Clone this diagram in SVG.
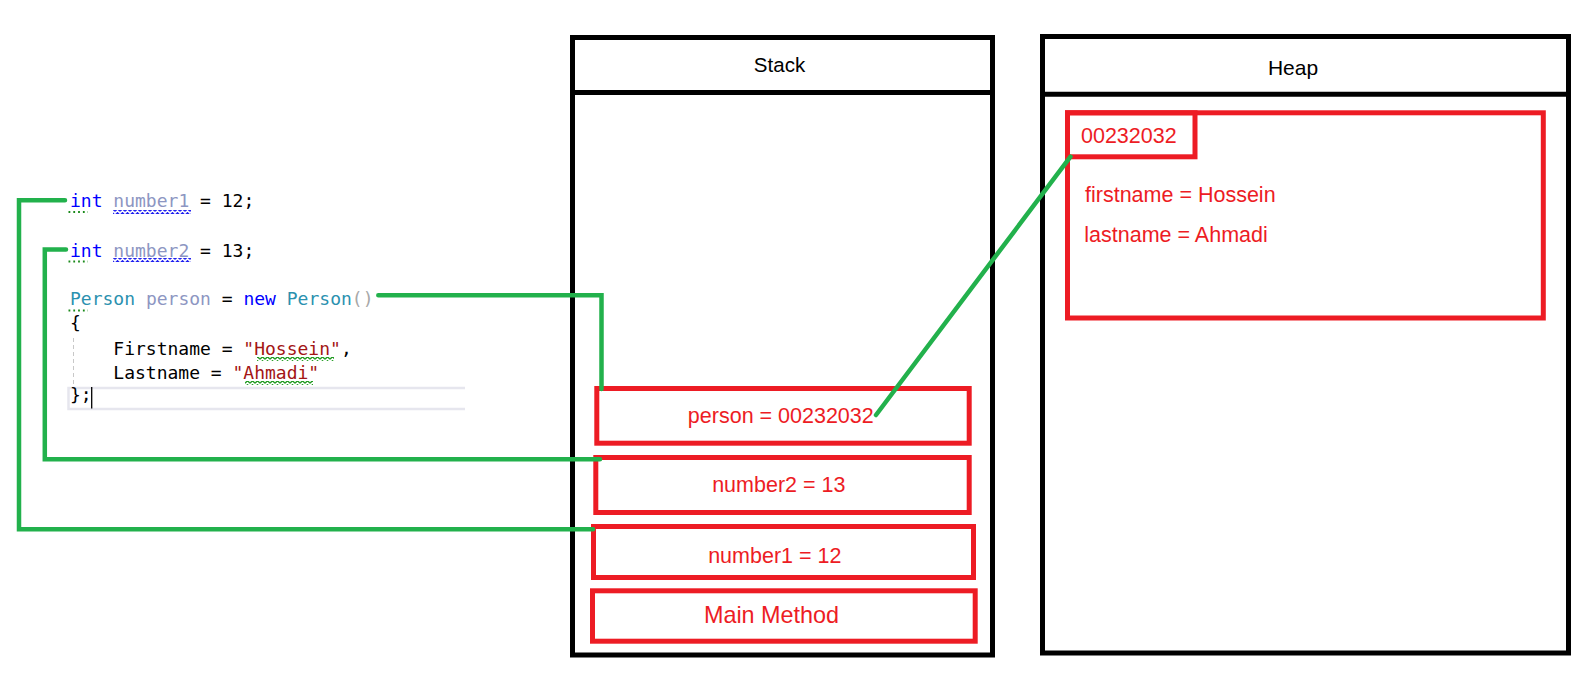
<svg xmlns="http://www.w3.org/2000/svg" width="1596" height="689" viewBox="0 0 1596 689">
<style>
.code{font-family:"DejaVu Sans Mono","Liberation Mono",monospace;font-size:18px;fill:#000}
.kw{fill:#0000ff}
.dim{fill:#8d96c2}
.ty{fill:#2b91af}
.str{fill:#a31515}
.par{fill:#a8a8a8}
.frame{fill:none;stroke:#000;stroke-width:5}
.red{fill:none;stroke:#ed1c24;stroke-width:5}
.hdr{font-family:"Liberation Sans",Arial,sans-serif;fill:#000;text-anchor:middle}
.lbl{font-family:"Liberation Sans",Arial,sans-serif;fill:#ed1c24;font-size:21.5px}
.mid{text-anchor:middle}
.conn{fill:none;stroke:#22b14c;stroke-width:4.5;stroke-linecap:round;stroke-linejoin:miter}
.dots{stroke:#1a8a1a;stroke-width:1.8;stroke-dasharray:1.8 3}
</style>
<defs>
<pattern id="wavyBlue" patternUnits="userSpaceOnUse" x="0" y="0" width="5" height="4">
<path d="M0 3.3 L2.5 0.7 L5 3.3" fill="none" stroke="#1c1cf0" stroke-width="1.3"/>
</pattern>
<pattern id="wavyGreen" patternUnits="userSpaceOnUse" x="0" y="0" width="5" height="4">
<path d="M0 3.3 L2.5 0.7 L5 3.3" fill="none" stroke="#1f9a1f" stroke-width="1.3"/>
</pattern>
</defs>
<rect width="1596" height="689" fill="#fff"/>

<g id="code">
<path d="M465 388 H68.5 V409 H465" fill="none" stroke="#e6e6ee" stroke-width="2.5"/>
<line x1="73.5" y1="338" x2="73.5" y2="386" stroke="#c8c8c8" stroke-width="1" stroke-dasharray="4 3"/>
<line x1="91.7" y1="387" x2="91.7" y2="408.5" stroke="#000" stroke-width="1.3"/>
<text class="code" x="70" y="207"><tspan class="kw">int</tspan> <tspan class="dim">number1</tspan> = 12;</text>
<text class="code" x="70" y="256.5"><tspan class="kw">int</tspan> <tspan class="dim">number2</tspan> = 13;</text>
<text class="code" x="70" y="305"><tspan class="ty">Person</tspan> <tspan class="dim">person</tspan> = <tspan class="kw">new</tspan> <tspan class="ty">Person</tspan><tspan class="par">()</tspan></text>
<text class="code" x="70" y="329">{</text>
<text class="code" x="113.3" y="355">Firstname = <tspan class="str">"Hossein"</tspan>,</text>
<text class="code" x="113.3" y="378.5">Lastname = <tspan class="str">"Ahmadi"</tspan></text>
<text class="code" x="70" y="401">};</text>
<rect x="113" y="210" width="78" height="4" fill="url(#wavyBlue)"/>
<rect x="113" y="258" width="78" height="4" fill="url(#wavyBlue)"/>
<rect x="257" y="357" width="77" height="4" fill="url(#wavyGreen)"/>
<rect x="245" y="381" width="68" height="4" fill="url(#wavyGreen)"/>
<line class="dots" x1="68.5" y1="212" x2="88" y2="212"/>
<line class="dots" x1="68.5" y1="261.5" x2="88" y2="261.5"/>
<line class="dots" x1="68.5" y1="310.5" x2="88" y2="310.5"/>
</g>

<g id="stack">
<rect class="frame" x="572.5" y="37.5" width="420" height="617.5"/>
<line x1="572.5" y1="92.5" x2="992.5" y2="92.5" stroke="#000" stroke-width="5"/>
<text class="hdr" x="779.5" y="72.3" font-size="20.5">Stack</text>
</g>

<g id="heap">
<rect class="frame" x="1042.5" y="36.5" width="526" height="616.5"/>
<line x1="1042.5" y1="94.2" x2="1568.5" y2="94.2" stroke="#000" stroke-width="5"/>
<text class="hdr" x="1293" y="75" font-size="21">Heap</text>
</g>

<g id="heap-object">
<rect class="red" x="1067.5" y="112.8" width="475.8" height="205.2"/>
<rect class="red" x="1067.5" y="112.8" width="127.5" height="44"/>
<text class="lbl" x="1081" y="143">00232032</text>
<text class="lbl" x="1085" y="201.7">firstname = Hossein</text>
<text class="lbl" x="1084.3" y="241.7">lastname = Ahmadi</text>
</g>

<g id="stack-person">
<rect class="red" x="596.8" y="388.5" width="372.4" height="54.7"/>
<text class="lbl mid" x="780.8" y="422.7">person = 00232032</text>
</g>
<g id="stack-number2">
<rect class="red" x="595.8" y="457.5" width="373.4" height="55"/>
<text class="lbl mid" x="778.8" y="492.3">number2 = 13</text>
</g>
<g id="stack-number1">
<rect class="red" x="593.5" y="526.5" width="380" height="51"/>
<text class="lbl mid" x="774.8" y="563.3">number1 = 12</text>
</g>
<g id="stack-main">
<rect class="red" x="592.5" y="590.8" width="382.7" height="50.4"/>
<text class="lbl mid" x="771.5" y="623.3" style="font-size:23.4px">Main Method</text>
</g>

<g id="connectors">
<path class="conn" d="M65 200.3 H19 V529.2 H593"/>
<path class="conn" d="M66 249.5 H44.8 V459.2 H600"/>
<path class="conn" d="M378.3 295.3 H601.5 V389"/>
<path class="conn" d="M876 415 L1070.5 156.7"/>
</g>
</svg>
